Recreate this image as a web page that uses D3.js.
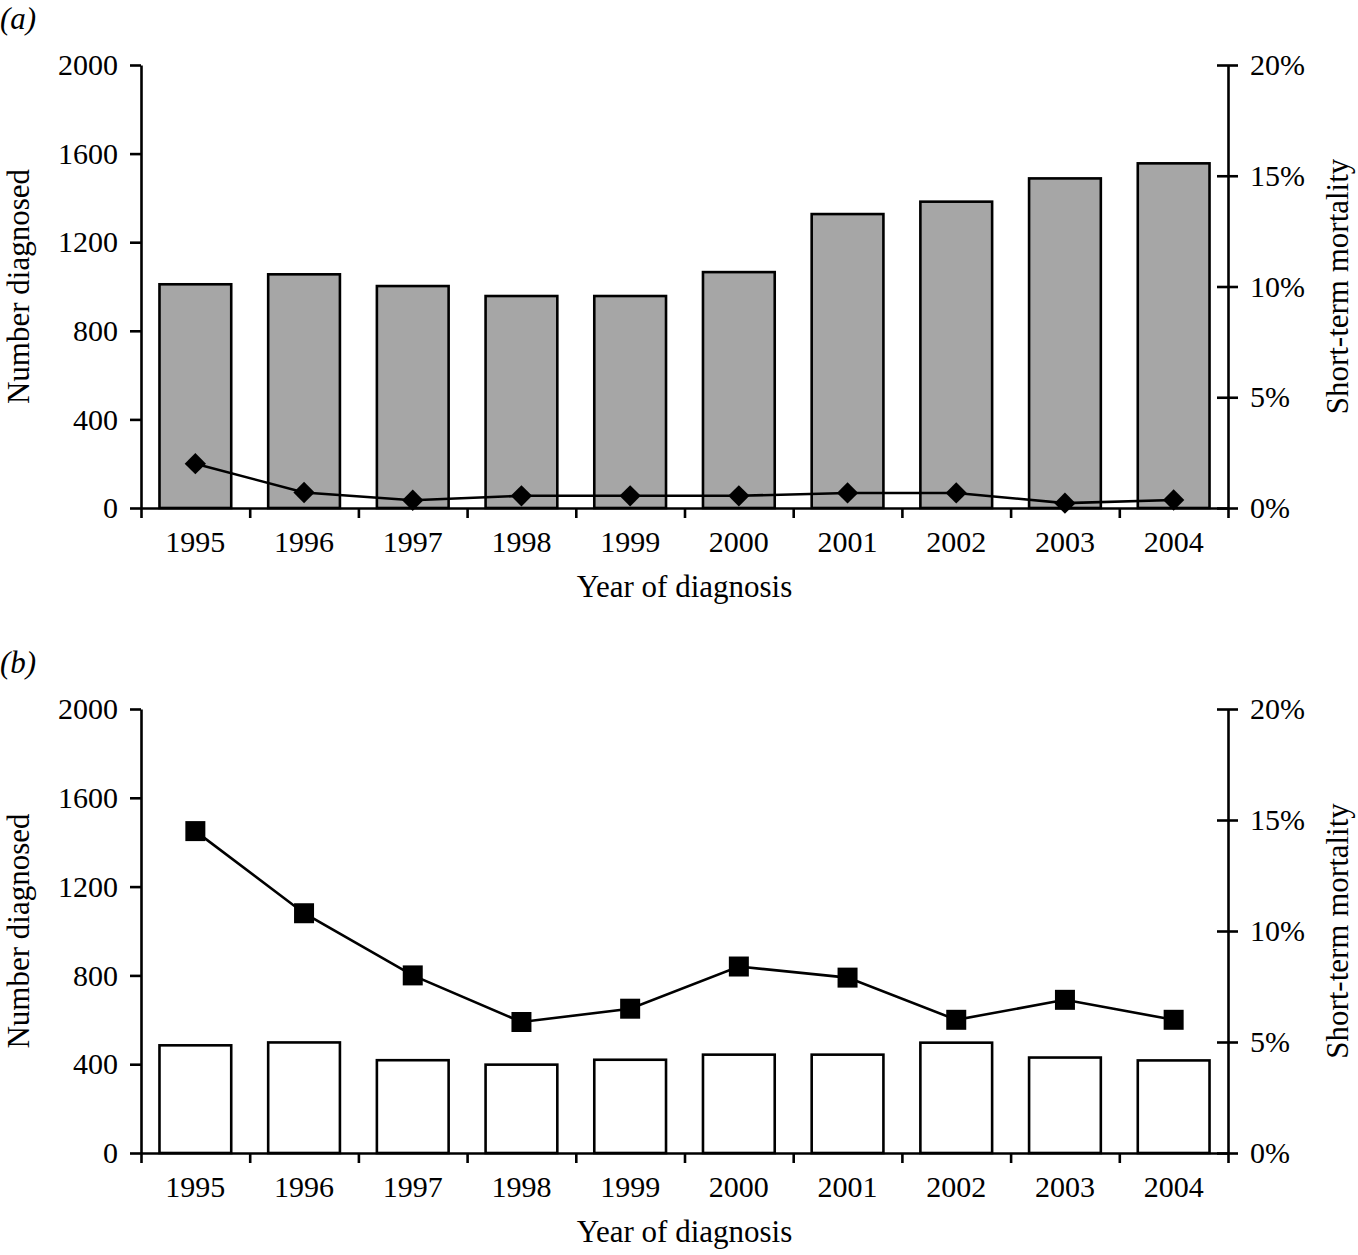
<!DOCTYPE html>
<html>
<head>
<meta charset="utf-8">
<script src="https://cdn.jsdelivr.net/npm/d3@7"></script>
<style>
  body { margin: 0; background: #fff; }
  text { font-family: 'Liberation Serif', 'Times New Roman', serif; fill: #000; }
</style>
</head>
<body>
<div id="vis"></div>
<script>
// data
let years = ['1995', '1996', '1997', '1998', '1999', '2000', '2001', '2002', '2003', '2004'];
let countTicks = [0, 400, 800, 1200, 1600, 2000];
let pctTicks = [0, 5, 10, 15, 20];

// panel (a)
let diagnosedA = [1010, 1055, 1002, 957, 957, 1065, 1327, 1383, 1488, 1556];
let mortalityA = [2.0, 0.7, 0.35, 0.55, 0.55, 0.55, 0.68, 0.68, 0.22, 0.36];

// panel (b)
let diagnosedB = [485, 498, 418, 398, 420, 443, 443, 497, 430, 417];
let mortalityB = [14.5, 10.8, 8.0, 5.9, 6.5, 8.4, 7.9, 6.0, 6.9, 6.0];

let W = 1358, H = 1255;
let left = 141, right = 1228;

let svg = d3.select('#vis')
    .append('svg')
    .attr('width', W)
    .attr('height', H);

function drawPanel(opts) {
    let g = svg.append('g');

    let x = d3.scaleBand()
        .domain(years)
        .range([left, right])
        .paddingInner(0.34)
        .paddingOuter(0.17);

    let yL = d3.scaleLinear()
        .domain([0, 2000])
        .range([opts.bottom, opts.top]);

    let yR = d3.scaleLinear()
        .domain([0, 20])
        .range([opts.bottom, opts.top]);

    // bars
    g.selectAll('rect.bar')
        .data(opts.counts)
        .enter()
        .append('rect')
        .attr('class', 'bar')
        .attr('x', (d, i) => x(years[i]))
        .attr('width', x.bandwidth())
        .attr('y', d => yL(d))
        .attr('height', d => opts.bottom - yL(d))
        .attr('fill', opts.barFill)
        .attr('stroke', '#000')
        .attr('stroke-width', 2.6);

    // left axis
    let axL = g.append('g')
        .attr('transform', 'translate(' + left + ',0)')
        .call(d3.axisLeft(yL).tickValues(countTicks).tickSize(11).tickPadding(12).tickSizeOuter(0)
            .tickFormat(d3.format('d')));

    // right axis (ticks cross the line)
    let axR = g.append('g')
        .attr('transform', 'translate(' + right + ',0)')
        .call(d3.axisRight(yR).tickValues(pctTicks).tickSize(10).tickPadding(12).tickSizeOuter(0)
            .tickFormat(d => d + '%'));
    axR.selectAll('.tick line').attr('x1', -11);

    // bottom axis: ticks at band edges
    let xLin = d3.scaleLinear().domain([0, years.length]).range([left, right]);
    let axB = g.append('g')
        .attr('transform', 'translate(0,' + opts.bottom + ')')
        .call(d3.axisBottom(xLin).ticks(years.length).tickSize(10).tickFormat('').tickSizeOuter(0));

    g.selectAll('text.year')
        .data(years)
        .enter()
        .append('text')
        .attr('class', 'year')
        .attr('x', d => x(d) + x.bandwidth() / 2)
        .attr('y', opts.bottom + 44)
        .attr('text-anchor', 'middle')
        .style('font-size', '30px')
        .text(d => d);

    [axL, axR, axB].forEach(a => {
        a.select('.domain').attr('stroke', '#000').attr('stroke-width', 2.6);
        a.selectAll('.tick line').attr('stroke', '#000').attr('stroke-width', 2.6);
        a.selectAll('.tick text').style('font-size', '30px').attr('fill', '#000');
    });

    // mortality line
    let line = d3.line()
        .x((d, i) => x(years[i]) + x.bandwidth() / 2)
        .y(d => yR(d));

    g.append('path')
        .datum(opts.pct)
        .attr('d', line)
        .attr('fill', 'none')
        .attr('stroke', '#000')
        .attr('stroke-width', 2.6);

    g.selectAll('path.marker')
        .data(opts.pct)
        .enter()
        .append('path')
        .attr('class', 'marker')
        .attr('transform', (d, i) => 'translate(' + (x(years[i]) + x.bandwidth() / 2) + ',' + yR(d) + ')')
        .attr('d', d3.symbol().type(opts.symbol).size(opts.symbolSize))
        .attr('fill', '#000');

    // labels
    g.append('text')
        .attr('x', 0)
        .attr('y', opts.top - 36)
        .style('font-size', '31px')
        .style('font-style', 'italic')
        .text(opts.letter);

    g.append('text')
        .attr('transform', 'translate(29,' + (opts.top + opts.bottom) / 2 + ') rotate(-90)')
        .attr('text-anchor', 'middle')
        .style('font-size', '31px')
        .text('Number diagnosed');

    g.append('text')
        .attr('transform', 'translate(1348,' + (opts.top + opts.bottom) / 2 + ') rotate(-90)')
        .attr('text-anchor', 'middle')
        .style('font-size', '31px')
        .text('Short-term mortality');

    g.append('text')
        .attr('x', (left + right) / 2)
        .attr('y', opts.bottom + 89)
        .attr('text-anchor', 'middle')
        .style('font-size', '31px')
        .text('Year of diagnosis');
}

drawPanel({
    top: 65, bottom: 508,
    counts: diagnosedA, pct: mortalityA,
    barFill: '#a6a6a6',
    symbol: d3.symbolDiamond2, symbolSize: 290,
    letter: '(a)'
});

drawPanel({
    top: 709, bottom: 1153,
    counts: diagnosedB, pct: mortalityB,
    barFill: '#ffffff',
    symbol: d3.symbolSquare, symbolSize: 400,
    letter: '(b)'
});
</script>
</body>
</html>
